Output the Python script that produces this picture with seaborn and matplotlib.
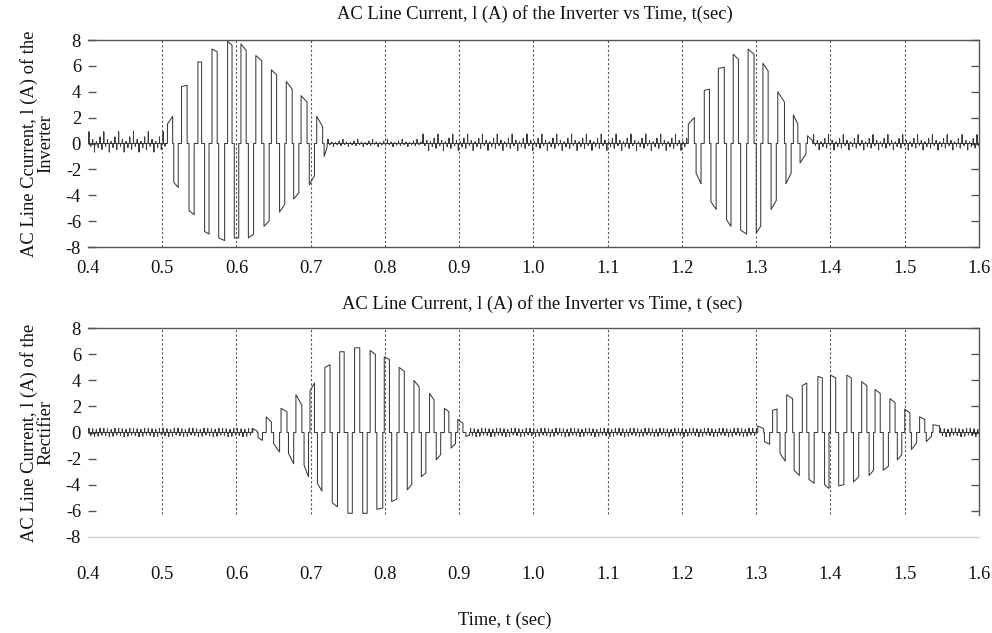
import numpy as np
import pandas as pd
import matplotlib
matplotlib.use("Agg")
import matplotlib.pyplot as plt
import seaborn as sns

sns.set_theme(style="white")
plt.rcParams["font.family"] = ["Liberation Serif", "DejaVu Serif"]

# ---------------- data ----------------
x_ticks = [0.4, 0.5, 0.6, 0.7, 0.8, 0.9, 1.0, 1.1, 1.2, 1.3, 1.4, 1.5, 1.6]
y_ticks = [-8, -6, -4, -2, 0, 2, 4, 6, 8]
grid_x = [0.5, 0.6, 0.7, 0.8, 0.9, 1.0, 1.1, 1.2, 1.3, 1.4, 1.5]

title_top = "AC Line Current, l (A) of the Inverter vs Time, t(sec)"
title_bottom = "AC Line Current, l (A) of the Inverter vs Time, t (sec)"
ylabel_top = "AC Line Ccurrent, l (A) of the\nInverter"
ylabel_bottom = "AC Line Current, l (A) of the\nRectifier"
xlabel = "Time, t (sec)"

# Inverter current: conduction pulses (start time, end time, current at start, current at end)
inv_t_start = [0.507, 0.5155, 0.526, 0.536, 0.548, 0.557, 0.567, 0.576, 0.588, 0.597,
               0.606, 0.616, 0.626, 0.637, 0.647, 0.658, 0.667, 0.677, 0.687, 0.698,
               0.708, 0.718,
               1.2085, 1.219, 1.230, 1.239, 1.249, 1.260, 1.269, 1.279, 1.289, 1.300,
               1.309, 1.320, 1.329, 1.340, 1.350, 1.359, 1.369]
inv_t_end = [0.514, 0.5215, 0.5335, 0.543, 0.553, 0.563, 0.574, 0.584, 0.594, 0.603,
             0.613, 0.623, 0.634, 0.644, 0.654, 0.665, 0.675, 0.684, 0.695, 0.705,
             0.716, 0.722,
             1.2166, 1.2256, 1.237, 1.246, 1.257, 1.266, 1.276, 1.287, 1.297, 1.306,
             1.316, 1.327, 1.338, 1.347, 1.356, 1.367, 1.376]
inv_i_start = [1.5, -3.0, 4.4, -5.2, 6.3, -6.8, 7.3, -7.3, 7.9, -7.3,
               7.7, -7.3, 6.8, -6.4, 5.7, -5.3, 4.8, -4.3, 3.7, -3.2,
               2.1, -1.0,
               1.5, -2.3, 4.1, -4.5, 5.8, -5.9, 6.9, -6.7, 7.3, -6.9,
               6.2, -5.1, 4.0, -3.1, 2.2, -1.5, 0.6]
inv_i_end = [2.1, -3.4, 4.5, -5.5, 6.3, -7.0, 7.1, -7.5, 7.6, -7.3,
             7.2, -7.0, 6.4, -6.0, 5.3, -4.7, 4.2, -3.8, 3.2, -2.5,
             1.3, -0.3,
             2.0, -3.1, 4.2, -5.1, 5.9, -6.4, 6.5, -7.0, 6.9, -6.4,
             5.6, -4.4, 3.2, -2.3, 1.5, -0.8, 0.2]
# Inverter ripple spikes between pulses (heights of the spikes in one 20 ms cycle)
inv_ripple = [0.9, -0.2, 0.3, -0.65, 0.15, -0.3, 0.5, -0.45]
inv_ripple_start = [0.400, 0.722, 0.850, 1.376]
inv_ripple_end = [0.505, 0.850, 1.207, 1.600]
inv_ripple_scale = [1.0, 0.35, 0.8, 0.75]

# Rectifier current pulses
rec_t_start = [0.622, 0.629, 0.640, 0.650, 0.660, 0.670, 0.680, 0.691, 0.699, 0.709,
               0.719, 0.729, 0.739, 0.750, 0.759, 0.770, 0.780, 0.789, 0.799, 0.809,
               0.819, 0.830, 0.839, 0.849, 0.860, 0.869, 0.880, 0.889, 0.898, 0.909,
               1.302, 1.311, 1.322, 1.332, 1.341, 1.351, 1.362, 1.371, 1.383, 1.392,
               1.400, 1.411, 1.422, 1.431, 1.442, 1.452, 1.460, 1.471, 1.480, 1.490,
               1.500, 1.509, 1.520, 1.529, 1.538]
rec_t_end = [0.628, 0.635, 0.647, 0.658, 0.668, 0.677, 0.688, 0.697, 0.705, 0.715,
             0.726, 0.736, 0.745, 0.756, 0.766, 0.776, 0.787, 0.797, 0.806, 0.816,
             0.826, 0.836, 0.846, 0.855, 0.866, 0.875, 0.886, 0.895, 0.905, 0.914,
             1.310, 1.318, 1.328, 1.339, 1.349, 1.358, 1.368, 1.378, 1.389, 1.398,
             1.407, 1.418, 1.428, 1.438, 1.449, 1.458, 1.467, 1.478, 1.487, 1.496,
             1.507, 1.516, 1.527, 1.536, 1.547]
rec_i_start = [0.3, -0.4, 1.2, -0.85, 1.85, -1.6, 2.9, -2.5, 3.2, -3.9,
               5.0, -5.4, 6.2, -6.2, 6.5, -6.2, 6.3, -5.9, 5.8, -5.3,
               5.0, -4.4, 4.0, -3.4, 3.0, -2.1, 1.85, -1.2, 1.0, -0.3,
               0.5, -0.7, 1.7, -1.6, 2.9, -2.9, 3.6, -3.6, 4.3, -4.0,
               4.4, -4.1, 4.4, -3.8, 3.9, -3.3, 3.3, -2.9, 2.6, -2.1,
               1.8, -1.3, 1.2, -0.7, 0.6]
rec_i_end = [0.1, -0.6, 0.8, -1.5, 1.6, -2.4, 2.1, -3.4, 3.8, -4.5,
             5.2, -5.7, 6.2, -6.2, 6.5, -6.2, 6.0, -5.8, 5.6, -5.1,
             4.7, -4.0, 3.5, -3.1, 2.5, -1.7, 1.6, -0.85, 0.7, -0.2,
             0.3, -0.9, 1.8, -2.2, 2.6, -3.3, 3.8, -3.9, 4.2, -4.3,
             4.2, -4.0, 4.2, -3.4, 3.6, -2.9, 3.0, -2.6, 2.3, -1.7,
             1.5, -0.8, 1.0, -0.3, 0.5]
rec_ripple = [0.35, -0.25, 0.3, -0.35, 0.25, -0.3, 0.35, -0.2]
rec_ripple_start = [0.400, 0.914, 1.547]
rec_ripple_end = [0.622, 1.302, 1.600]
rec_ripple_scale = [0.9, 0.9, 0.9]

RIPPLE_STEP = 0.0025  # spacing of ripple spikes (s)


def build_trace(t0s, t1s, v0s, v1s, ripple, r_start, r_end, r_scale):
    events = []
    for a, b, c, d in zip(t0s, t1s, v0s, v1s):
        events.append((a, [(a, 0.0), (a, c), (b, d), (b, 0.0)]))
    for s, e, sc in zip(r_start, r_end, r_scale):
        n = int(round((e - s) / RIPPLE_STEP))
        for k in range(n):
            t = s + (k + 0.5) * RIPPLE_STEP
            h = ripple[k % len(ripple)] * sc
            events.append((t, [(t, 0.0), (t, h), (t, 0.0)]))
    events.sort(key=lambda ev: ev[0])
    pts = [(x_ticks[0], 0.0)] + [p for _, ev in events for p in ev] + [(x_ticks[-1], 0.0)]
    df = pd.DataFrame(pts, columns=["t", "i"])
    return df


inv_df = build_trace(inv_t_start, inv_t_end, inv_i_start, inv_i_end,
                     inv_ripple, inv_ripple_start, inv_ripple_end, inv_ripple_scale)
rec_df = build_trace(rec_t_start, rec_t_end, rec_i_start, rec_i_end,
                     rec_ripple, rec_ripple_start, rec_ripple_end, rec_ripple_scale)

# ---------------- figure ----------------
W, H = 992, 633
fig = plt.figure(figsize=(W / 100, H / 100), dpi=100)
ax1 = fig.add_axes([88 / W, 1 - 247 / H, (979 - 88) / W, (247 - 40) / H])
ax2 = fig.add_axes([88 / W, 1 - 536.7 / H, (979 - 88) / W, (536.7 - 328.3) / H])

LINE = "#3a3a3a"
SPINE = "#555555"
TXT = "#111111"
FS = 13.3

for ax, df in [(ax1, inv_df), (ax2, rec_df)]:
    sns.lineplot(data=df, x="t", y="i", ax=ax, estimator=None, sort=False,
                 color=LINE, linewidth=0.75, zorder=3)
    ax.set_xlim(x_ticks[0], x_ticks[-1])
    ax.set_ylim(y_ticks[0], y_ticks[-1])
    ax.set_xticks(x_ticks)
    ax.set_xticklabels([f"{v:.1f}" for v in x_ticks])
    ax.set_yticks(y_ticks)
    ax.set_yticklabels([str(v) for v in y_ticks])
    ax.set_xlabel("")
    ax.set_ylabel("")
    ax.grid(False)
    ax.tick_params(axis="y", which="both", left=True, right=True, direction="in",
                   length=6, width=1, color=SPINE, labelsize=FS, pad=5,
                   labelcolor=TXT)
    ax.tick_params(axis="x", length=0, labelsize=FS, labelcolor=TXT)
    ax.spines["left"].set_visible(False)
    for s in ["top", "bottom", "right"]:
        ax.spines[s].set_color(SPINE)
        ax.spines[s].set_linewidth(1.0)

ax1.tick_params(axis="x", pad=9)
ax2.tick_params(axis="x", pad=21)

for gx in grid_x:
    ax1.axvline(gx, color=SPINE, lw=0.8, ls=(0, (2, 2)), zorder=1)
    ax2.axvline(gx, ymin=(-6.25 - y_ticks[0]) / (y_ticks[-1] - y_ticks[0]), ymax=1,
                color=SPINE, lw=0.8, ls=(0, (2, 2)), zorder=1)

ax2.spines["bottom"].set_color("#d0d0d0")
ax2.spines["right"].set_bounds(-6.3, 8)
t0 = ax2.yaxis.get_major_ticks()[0]
t0.tick1line.set_visible(False)
t0.tick2line.set_visible(False)

ax1.set_ylabel(ylabel_top, fontsize=FS, labelpad=8, color=TXT, linespacing=1.0)
ax2.set_ylabel(ylabel_bottom, fontsize=FS, labelpad=8, color=TXT, linespacing=1.0)

fig.text(535 / W, 1 - 14 / H, title_top, ha="center", va="center", fontsize=FS, color=TXT)
fig.text(542 / W, 1 - 304 / H, title_bottom, ha="center", va="center", fontsize=FS, color=TXT)
fig.text(505 / W, 1 - 620 / H, xlabel, ha="center", va="center", fontsize=FS, color=TXT)

fig.savefig("out.png", dpi=100)
